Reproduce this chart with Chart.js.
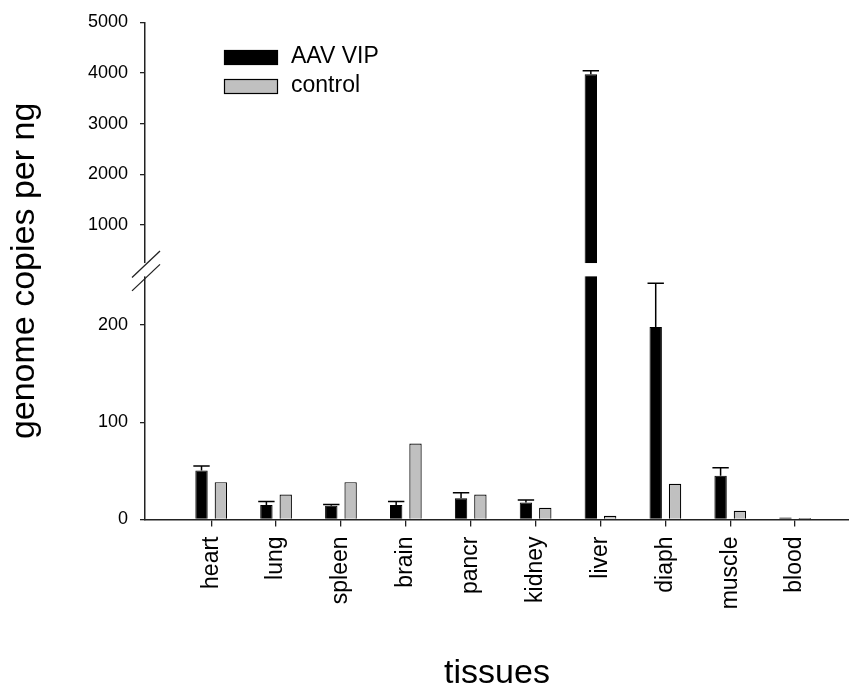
<!DOCTYPE html>
<html>
<head>
<meta charset="utf-8">
<script src="https://cdn.jsdelivr.net/npm/chart.js@4.4.1/dist/chart.umd.min.js"></script>
<style>
  html, body { margin: 0; padding: 0; background: #fff; }
  #wrap { width: 849px; height: 691px; }
</style>
</head>
<body>
<div id="wrap"><canvas id="chart" width="849" height="691"></canvas></div>
<script>
// values
const tissues = ["heart", "lung", "spleen", "brain", "pancr", "kidney", "liver", "diaph", "muscle", "blood"];
const aavVip = [50.5, 15, 14.2, 15, 21.8, 17.6, 3975, 198, 45, 2];
const aavVipErr = [4.5, 3.4, 1.3, 3.4, 5.6, 2.4, 70, 45, 8.3, 0];
const control = [38.4, 25.6, 38.4, 78.2, 25.6, 12.1, 3.8, 36.7, 9, 1.5];
const yTicks = [0, 100, 200, 1000, 2000, 3000, 4000, 5000];
const breakAt = 250;

const FONT = "'Liberation Sans', Arial, sans-serif";
const LOW_FRAC = 0.489;   // share of axis height for 0..250
const GAP_FRAC = 0.0268;  // share of axis height for the break

// linear scale with a break: 0..250 on the lower half, 250..max above it
class BrokenScale extends Chart.LinearScale {
    static id = 'broken';
    static defaults = Chart.LinearScale.defaults;

    _parts() {
        const h = this.bottom - this.top;
        const lowH = h * LOW_FRAC;
        const gapH = h * GAP_FRAC;
        return { lowH, gapH, upH: h - lowH - gapH };
    }
    getPixelForValue(value) {
        const p = this._parts();
        if (value <= breakAt) {
            return this.bottom - (value - this.min) / (breakAt - this.min) * p.lowH;
        }
        return this.bottom - p.lowH - p.gapH - (value - breakAt) / (this.max - breakAt) * p.upH;
    }
    getValueForPixel(pixel) {
        const p = this._parts();
        const d = this.bottom - pixel;
        if (d <= p.lowH) return this.min + d / p.lowH * (breakAt - this.min);
        return breakAt + (d - p.lowH - p.gapH) / p.upH * (this.max - breakAt);
    }
}
Chart.register(BrokenScale);

const errorBars = {
    id: 'errorBars',
    afterDatasetsDraw(chart) {
        const ctx = chart.ctx;
        const yScale = chart.scales.y;
        const meta = chart.getDatasetMeta(0);
        ctx.save();
        ctx.strokeStyle = '#000';
        ctx.lineWidth = 1.5;
        meta.data.forEach((bar, i) => {
            const err = aavVipErr[i];
            if (!err) return;
            const top = yScale.getPixelForValue(aavVip[i] + err);
            const half = bar.width / 2 + 2;
            ctx.beginPath();
            ctx.moveTo(bar.x, bar.y);
            ctx.lineTo(bar.x, top);
            ctx.moveTo(bar.x - half, top);
            ctx.lineTo(bar.x + half, top);
            ctx.stroke();
        });
        ctx.restore();
    }
};

const axisBreak = {
    id: 'axisBreak',
    afterDatasetsDraw(chart) {
        const ctx = chart.ctx;
        const y = chart.scales.y;
        const area = chart.chartArea;
        const p = y._parts();
        const lowTop = y.bottom - p.lowH;
        const upBottom = lowTop - p.gapH;
        ctx.save();
        ctx.fillStyle = '#fff';
        ctx.fillRect(area.left - 3, upBottom, area.right - area.left + 3, lowTop - upBottom);
        ctx.strokeStyle = '#222';
        ctx.lineWidth = 1.3;
        [upBottom + 2, lowTop + 2].forEach(cy => {
            ctx.beginPath();
            ctx.moveTo(area.left - 13, cy + 12.5);
            ctx.lineTo(area.left + 15, cy - 14);
            ctx.stroke();
        });
        ctx.restore();
    }
};

const boxLegend = {
    id: 'boxLegend',
    afterDraw(chart) {
        const ctx = chart.ctx;
        const area = chart.chartArea;
        const x = area.left + 79;
        let yTop = 50;
        ctx.save();
        ctx.font = '23px ' + FONT;
        ctx.textBaseline = 'middle';
        chart.data.datasets.forEach(ds => {
            ctx.fillStyle = ds.backgroundColor;
            ctx.fillRect(x, yTop, 54, 15);
            ctx.strokeStyle = '#000';
            ctx.lineWidth = 1.2;
            ctx.strokeRect(x + 0.5, yTop + 0.5, 53, 14);
            ctx.fillStyle = '#000';
            ctx.fillText(ds.label, x + 67, yTop + 7);
            yTop += 29;
        });
        ctx.restore();
    }
};

const ctx = document.getElementById('chart').getContext('2d');
new Chart(ctx, {
    type: 'bar',
    data: {
        datasets: [{
            label: 'AAV VIP',
            data: aavVip.map((v, i) => ({ x: i, y: v })),
            backgroundColor: '#000000',
            borderColor: '#000000',
            borderWidth: 1
        }, {
            label: 'control',
            data: control.map((v, i) => ({ x: i, y: v })),
            backgroundColor: '#c0c0c0',
            borderColor: '#000000',
            borderWidth: 1.2
        }]
    },
    options: {
        responsive: false,
        animation: false,
        categoryPercentage: 0.596,
        barPercentage: 0.64,
        layout: { padding: { top: 22.3, left: 0, right: 0, bottom: 0 } },
        plugins: {
            legend: { display: false },
            tooltip: { enabled: false }
        },
        scales: {
            x: {
                type: 'linear',
                min: -1.02,
                max: 9.83,
                offset: false,
                afterBuildTicks: s => { s.ticks = tissues.map((t, i) => ({ value: i })); },
                afterFit: s => { s.height = 171.5; s.paddingLeft = 0; s.paddingRight = 0; },
                grid: { drawOnChartArea: false, offset: false, tickLength: 7, color: '#222', lineWidth: 1.3 },
                border: { color: '#222', width: 1.5 },
                ticks: {
                    autoSkip: false,
                    minRotation: 90,
                    maxRotation: 90,
                    padding: 10,
                    color: '#000',
                    font: { family: FONT, size: 23 },
                    callback: v => tissues[v] ?? ''
                },
                title: {
                    display: true,
                    text: 'tissues',
                    color: '#000',
                    font: { family: FONT, size: 34, lineHeight: 1 },
                    padding: 0
                }
            },
            y: {
                type: 'broken',
                min: 0,
                max: 5000,
                afterBuildTicks: s => { s.ticks = yTicks.map(v => ({ value: v })); },
                afterFit: s => { s.width = 145; s.paddingTop = 0; s.paddingBottom = 0; },
                grid: { drawOnChartArea: false, tickLength: 5, color: '#222', lineWidth: 1.3 },
                border: { color: '#222', width: 1.5 },
                ticks: {
                    autoSkip: false,
                    padding: 12,
                    color: '#000',
                    font: { family: FONT, size: 18 },
                    callback: v => String(v)
                },
                title: {
                    display: true,
                    text: 'genome copies per ng',
                    color: '#000',
                    font: { family: FONT, size: 34, lineHeight: 1 },
                    padding: { top: 8, bottom: 0 }
                }
            }
        }
    },
    plugins: [errorBars, axisBreak, boxLegend]
});
</script>
</body>
</html>
